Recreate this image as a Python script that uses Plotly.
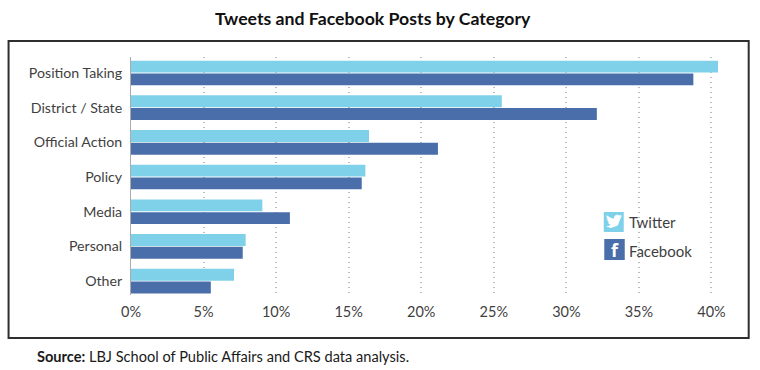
import plotly.graph_objects as go

categories = ["Position Taking", "District / State", "Official Action", "Policy", "Media", "Personal", "Other"]
twitter = [40.45, 25.55, 16.4, 16.15, 9.05, 7.9, 7.1]
facebook = [38.75, 32.1, 21.15, 15.9, 10.95, 7.7, 5.5]
x_ticks = [0, 5, 10, 15, 20, 25, 30, 35, 40]
x_labels = ["0%", "5%", "10%", "15%", "20%", "25%", "30%", "35%", "40%"]

W, H = 760, 370
L, R, T, B = 131, 726.3, 57, 295
TW_COL, FB_COL = "#7FD1EA", "#4A6EA9"
TXT = "#3F3F3F"
LABEL_FONT = "Lato"

def px(x): return (x - L) / (R - L)
def py(y): return (B - y) / (B - T)

def rect(x0, y0, x1, y1, **kw):
    return dict(type="rect", xref="paper", yref="paper", x0=px(x0), x1=px(x1), y0=py(y1), y1=py(y0), **kw)

bird = [(23.95,4.57),(21.13,5.35),(23.29,2.62),(20.16,3.81),(16.6,2.3),(13.5,3.6),(11.8,6.6),(11.78,8.29),
        (6.9,7.0),(1.64,3.16),(0.97,5.64),(3.16,9.73),(0.93,9.12),(0.93,9.18),(4.88,14.0),(2.67,14.09),
        (7.27,17.5),(1.17,19.6),(0,19.54),(7.56,21.75),(17.5,18),(21.55,7.76),(21.54,7.13)]
bx, by, bs = 606, 213, 16.5 / 24
bird_path = "M" + " L".join(f"{px(bx + a * bs):.5f},{py(by + b * bs):.5f}" for a, b in bird) + " Z"

fig = go.Figure()
fig.add_bar(y=categories, x=twitter, name="Twitter", orientation="h", marker_color=TW_COL, marker_line_width=0)
fig.add_bar(y=categories, x=facebook, name="Facebook", orientation="h", marker_color=FB_COL, marker_line_width=0)

shapes = [
    rect(600, 203, 696, 271, layer="between", fillcolor="white", line_width=0),
    rect(8.5, 41, 749, 338, layer="below", fillcolor="rgba(0,0,0,0)", line=dict(color="#2E2E2E", width=2)),
    rect(604, 212, 624, 232, fillcolor=TW_COL, line_width=0),
    dict(type="path", xref="paper", yref="paper", path=bird_path, fillcolor="white", line_width=0),
    rect(604.5, 239, 625, 260, fillcolor=FB_COL, line_width=0),
]

def note(x, y, text, size, color=TXT, family=LABEL_FONT, anchor="left"):
    return dict(x=px(x), y=py(y), xref="paper", yref="paper", text=text, showarrow=False,
                xanchor=anchor, yanchor="middle", font=dict(family=family, size=size, color=color))

annotations = [
    note(373, 19, "<b>Tweets and Facebook Posts by Category</b>", 17.7, "#111111", "Lato", "center"),
    note(35, 356, "<b>Source:</b> LBJ School of Public Affairs and CRS data analysis.", 14.6, "#1A1A1A", "Lato"),
    note(627, 222, "Twitter", 15),
    note(627, 251, "Facebook", 15),
    note(615, 249.5, "<b>f</b>", 18, "white", "Open Sans", "center"),
]

fig.update_layout(
    width=W, height=H, margin=dict(l=L, r=W - R, t=T, b=H - B, autoexpand=False),
    paper_bgcolor="white", plot_bgcolor="white", showlegend=False,
    barmode="group", bargap=0.265, bargroupgap=0.07,
    shapes=shapes, annotations=annotations,
    font=dict(family=LABEL_FONT, color=TXT),
    xaxis=dict(range=[0, 41], tickvals=x_ticks, ticktext=x_labels, showgrid=True, gridcolor="#BDBDBD",
               griddash="1px,4px", gridwidth=1.5, zeroline=False, showline=False, ticks="",
               tickfont=dict(size=14.5, family=LABEL_FONT, color=TXT), ticklabelstandoff=6),
    yaxis=dict(categoryorder="array", categoryarray=categories, range=[6.4, -0.46], showgrid=False,
               zeroline=False, showline=True, linecolor="#ABABAB", linewidth=1, ticks="",
               tickfont=dict(size=14.2, family=LABEL_FONT, color=TXT), ticklabelstandoff=5),
)
fig.write_html("out.html", config=dict(displayModeBar=False),
               post_script="document.body.style.margin='0';document.documentElement.style.overflow='hidden';")
